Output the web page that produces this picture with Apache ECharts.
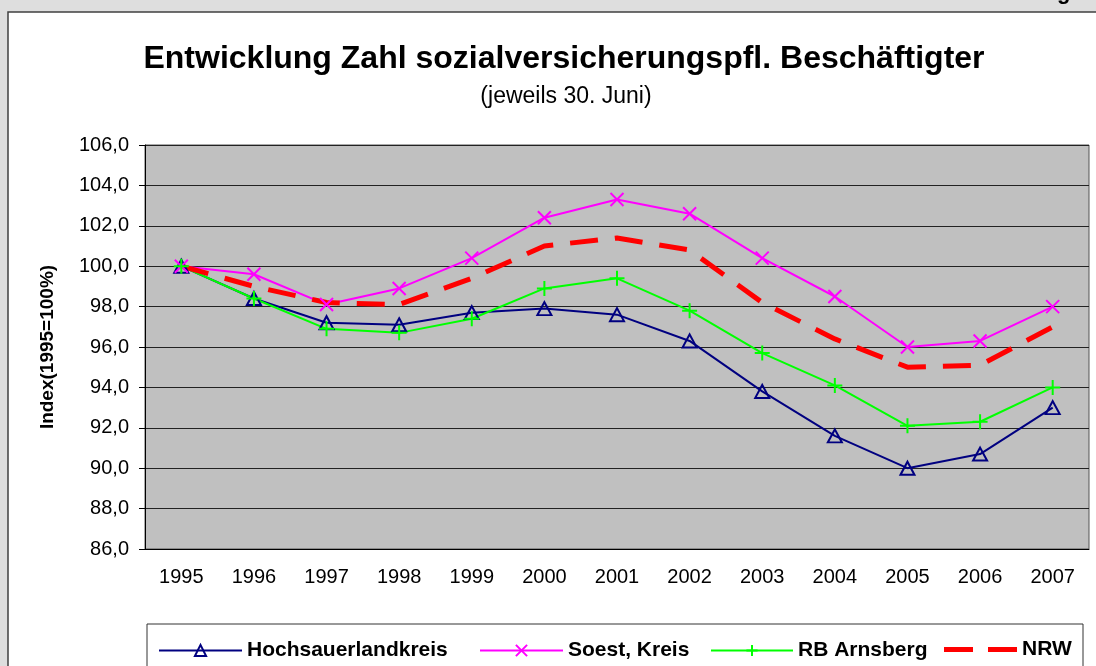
<!DOCTYPE html>
<html>
<head>
<meta charset="utf-8">
<script src="https://cdn.jsdelivr.net/npm/echarts@6/dist/echarts.min.js"></script>
<style>
  html, body { margin: 0; padding: 0; background: #dedede; }
  #chart { width: 1096px; height: 666px; }
</style>
</head>
<body>
<div id="chart"></div>
<script>
var years = ['1995', '1996', '1997', '1998', '1999', '2000', '2001', '2002', '2003', '2004', '2005', '2006', '2007'];
var hochsauerland = [100.0, 98.4, 97.2, 97.1, 97.7, 97.9, 97.6, 96.3, 93.8, 91.6, 90.0, 90.7, 93.0];
var soest = [100.0, 99.6, 98.1, 98.9, 100.4, 102.4, 103.3, 102.6, 100.4, 98.5, 96.0, 96.3, 98.0];
var arnsberg = [100.0, 98.4, 96.9, 96.7, 97.4, 98.9, 99.4, 97.8, 95.7, 94.1, 92.1, 92.3, 94.0];
var nrw = [100.0, 99.0, 98.2, 98.1, 99.4, 101.0, 101.4, 100.8, 98.2, 96.4, 95.0, 95.1, 97.0];

var crossPath = 'path://M0,0L10,10M10,0L0,10';
var plusPath = 'path://M5,0L5,10M0,5L10,5';
// two dashes like the NRW line
var dashIcon = 'path://M0,0h29v5h-29zM44,0h29v5h-29z';

var myChart = echarts.init(document.getElementById('chart'));

function legendAt(name, left, width, icon) {
    var lg = {
        data: [name],
        left: left,
        top: 635,
        itemWidth: width,
        itemHeight: 14,
        lineStyle: { width: 2 },
        textStyle: { fontFamily: 'Liberation Sans, Arial', fontWeight: 'bold', fontSize: 21, color: '#000' }
    };
    if (icon) {
        lg.icon = icon;
        lg.itemHeight = 5;
        lg.top = 634;
        lg.itemStyle = { color: '#ff0000', borderWidth: 0 };
    }
    return lg;
}

myChart.setOption({
    backgroundColor: '#dedede',
    animation: false,
    title: [{
        text: 'Entwicklung Zahl sozialversicherungspfl. Beschäftigter',
        left: 559,
        top: 38,
        textAlign: 'center',
        textStyle: { fontFamily: 'Liberation Sans, Arial', fontWeight: 'bold', fontSize: 32, color: '#000' }
    }, {
        text: '(jeweils 30. Juni)',
        left: 561,
        top: 80,
        textAlign: 'center',
        textStyle: { fontFamily: 'Liberation Sans, Arial', fontWeight: 'normal', fontSize: 23, color: '#000' }
    }],
    graphic: [{
        type: 'rect',
        z: -10,
        shape: { x: 8, y: 12, width: 1100, height: 700 },
        style: { fill: '#fff', stroke: '#404040', lineWidth: 1.5 }
    }, {
        type: 'text',
        z: -9,
        style: { text: 'g', x: 1057, y: 4, verticalAlign: 'bottom', font: 'bold 22px Liberation Sans, Arial', fill: '#000' }
    }, {
        type: 'rect',
        z: -9,
        shape: { x: 147, y: 624, width: 936, height: 50 },
        style: { fill: '#fff', stroke: '#333', lineWidth: 1 }
    }],
    legend: [
        legendAt('Hochsauerlandkreis', 153, 83),
        legendAt('Soest, Kreis', 474, 83),
        legendAt('RB Arnsberg', 705, 82),
        legendAt('NRW', 939, 73, dashIcon)
    ],
    grid: {
        left: 145,
        right: 7,
        top: 145,
        bottom: 117,
        show: true,
        backgroundColor: '#c0c0c0',
        borderColor: '#555',
        borderWidth: 1
    },
    xAxis: {
        type: 'category',
        data: years,
        boundaryGap: true,
        axisLine: { lineStyle: { color: '#000', width: 1 } },
        axisTick: { length: 6, lineStyle: { color: '#000' } },
        axisLabel: { margin: 18, fontFamily: 'Liberation Sans, Arial', fontSize: 20, color: '#000' }
    },
    yAxis: {
        type: 'value',
        min: 86,
        max: 106,
        interval: 2,
        name: 'Index(1995=100%)',
        nameLocation: 'middle',
        nameGap: 88,
        nameTextStyle: { fontFamily: 'Liberation Sans, Arial', fontWeight: 'bold', fontSize: 19, color: '#000' },
        axisLine: { show: true, lineStyle: { color: '#000', width: 1 } },
        axisTick: { show: true, length: 6, lineStyle: { color: '#000' } },
        axisLabel: {
            margin: 16,
            fontFamily: 'Liberation Sans, Arial',
            fontSize: 20,
            color: '#000',
            formatter: function (v) { return v.toFixed(1).replace('.', ','); }
        },
        splitLine: { lineStyle: { color: '#222', width: 1 } }
    },
    series: [{
        name: 'Hochsauerlandkreis',
        type: 'line',
        data: hochsauerland,
        symbol: 'triangle',
        symbolSize: [14, 13],
        lineStyle: { color: '#000080', width: 2 },
        itemStyle: { color: 'rgba(0,0,0,0)', borderColor: '#000080', borderWidth: 2 }
    }, {
        name: 'Soest, Kreis',
        type: 'line',
        data: soest,
        symbol: crossPath,
        symbolSize: 13,
        lineStyle: { color: '#ff00ff', width: 2 },
        itemStyle: { color: 'rgba(0,0,0,0)', borderColor: '#ff00ff', borderWidth: 2 }
    }, {
        name: 'RB Arnsberg',
        type: 'line',
        data: arnsberg,
        symbol: plusPath,
        symbolSize: 15,
        lineStyle: { color: '#00ff00', width: 2 },
        itemStyle: { color: 'rgba(0,0,0,0)', borderColor: '#00ff00', borderWidth: 2 }
    }, {
        name: 'NRW',
        type: 'line',
        data: nrw,
        symbol: 'none',
        lineStyle: { color: '#ff0000', width: 5, type: [28, 17] },
        itemStyle: { color: '#ff0000' }
    }]
});
</script>
</body>
</html>
